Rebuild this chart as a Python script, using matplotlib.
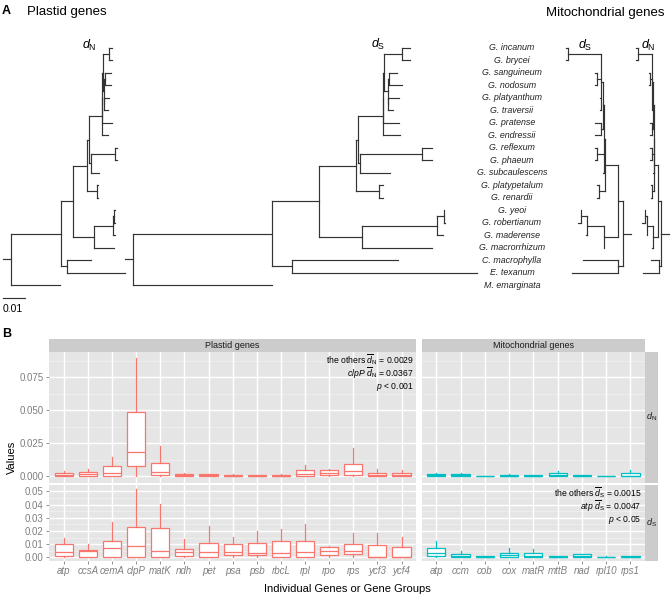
import matplotlib
matplotlib.use('Agg')
import matplotlib.pyplot as plt

plt.rcParams['font.family'] = ['Liberation Sans', 'DejaVu Sans']
plt.rcParams['mathtext.fontset'] = 'custom'
plt.rcParams['mathtext.rm'] = 'Liberation Sans'
plt.rcParams['mathtext.it'] = 'Liberation Sans:italic'
plt.rcParams['mathtext.bf'] = 'Liberation Sans:bold'

# ---------------------------------------------------------------- DATA (A)
taxa = ['G. incanum', 'G. brycei', 'G. sanguineum', 'G. nodosum', 'G. platyanthum',
        'G. traversii', 'G. pratense', 'G. endressii', 'G. reflexum', 'G. phaeum',
        'G. subcaulescens', 'G. platypetalum', 'G. renardii', 'G. yeoi',
        'G. robertianum', 'G. maderense', 'G. macrorrhizum', 'C. macrophylla',
        'E. texanum', 'M. emarginata']
tip_keys = ['inc', 'bry', 'san', 'nod', 'pla', 'tra', 'pra', 'end', 'ref', 'pha',
            'sub', 'plp', 'ren', 'yeo', 'rob', 'mad', 'mac', 'Cma', 'Ete', 'Mem']

# branch lengths in 10^-3 substitutions / site
plastid_dN_tree = (
    "((((((("
    "((inc:1.1,bry:1.1):3.0,((san:2.9,nod:2.9):0.5,(pla:2.2,tra:1.6):0.2):0.5)"
    ":0.2,pra:4.3)"
    ":0.2,end:2.7)"
    ":5.8,((ref:0.9,pha:0.9):11.0,sub:3.9):0.8)"
    ":0.8,(plp:0.7,ren:0.7):4.2)"
    ":6.6,(((yeo:0.2,rob:0.5):0.5,mad:0.7):8.6,mac:9.1):9.8)"
    ":5.5,(Cma:10.9,Ete:26.5):2.7)"
    ":22.7,Mem:22.4);")

plastid_dS_tree = (
    "((((((("
    "((inc:3.5,bry:3.5):8.2,((san:3.6,nod:5.9):0.5,(pla:5.0,tra:2.3):0.2):1.8)"
    ":0.2,pra:6.9)"
    ":0.2,end:7.9)"
    ":11.4,((ref:4.5,pha:4.5):28.0,sub:13.6):1.0)"
    ":0.8,(plp:1.8,ren:1.8):10.6)"
    ":16.7,(((yeo:0.2,rob:0.7):3.0,mad:2.7):34.4,mac:31.8):19.2)"
    ":21.4,(Cma:48.5,Ete:84.1):8.8)"
    ":63.3,Mem:63.3);")

mito_dS_tree = (
    "((((("
    "((inc:0.9,bry:0.9):14.7,(san:0.9,nod:0.9):1.8,pla:0.1,tra:0.1)"
    ":0.9,(pra:2.7,end:2.7):0.9)"
    ":0.8,(ref:0.9,pha:0.9):3.4,sub:0.5)"
    ":0.1,(plp:0.9,ren:0.9):2.7)"
    ":6.2,(((yeo:0.2,rob:1.5):2.5,mad:0.1):8.0,mac:0.2):6.4)"
    ":2.3,(Cma:15.9,Ete:21.2):2.3)"
    ":10.6,Mem:10.1);")

mito_dN_tree = (
    "((((("
    "((inc:0.9,bry:0.9):6.5,(san:0.5,nod:0.5):0.7,pla:0.1,tra:0.1)"
    ":0.5,(pra:0.7,end:0.7):0.5)"
    ":0.3,(ref:0.7,pha:0.7):0.9,sub:0.2)"
    ":0.3,(plp:0.7,ren:0.7):0.9)"
    ":1.5,(((yeo:0.2,rob:1.2):0.9,mad:0.1):2.9,mac:0.6):2.0)"
    ":1.5,(Cma:3.8,Ete:7.6):0.8)"
    ":4.2,Mem:4.2);")

scale_bar_value = 10.0   # = 0.01 substitutions/site
scale_bar_label = '0.01'

# ---------------------------------------------------------------- DATA (B)
plastid_genes = ['atp', 'ccsA', 'cemA', 'clpP', 'matK', 'ndh', 'pet', 'psa', 'psb',
                 'rbcL', 'rpl', 'rpo', 'rps', 'ycf3', 'ycf4']
mito_genes = ['atp', 'ccm', 'cob', 'cox', 'matR', 'mttB', 'nad', 'rpl10', 'rps1']

# boxplot stats: [lower whisker, Q1, median, Q3, upper whisker]
plastid_dN = [
    [0, 0.0003, 0.0013, 0.0025, 0.0039],
    [0, 0.0002, 0.0015, 0.0032, 0.0053],
    [0, 0.0003, 0.0023, 0.0080, 0.0146],
    [0, 0.0080, 0.0184, 0.0487, 0.0894],
    [0, 0.0008, 0.0033, 0.0098, 0.0230],
    [0, 0.0005, 0.0013, 0.0020, 0.0030],
    [0, 0.0002, 0.0008, 0.0015, 0.0020],
    [0, 0.0001, 0.0005, 0.0012, 0.0015],
    [0, 0.0000, 0.0004, 0.0010, 0.0012],
    [0, 0.0000, 0.0005, 0.0013, 0.0018],
    [0, 0.0005, 0.0018, 0.0046, 0.0089],
    [0, 0.0008, 0.0025, 0.0046, 0.0060],
    [0, 0.0013, 0.0038, 0.0094, 0.0213],
    [0, 0.0000, 0.0008, 0.0028, 0.0053],
    [0, 0.0002, 0.0013, 0.0028, 0.0048]]
plastid_dS = [
    [0, 0.0013, 0.0041, 0.0099, 0.0145],
    [0, 0.0002, 0.0045, 0.0053, 0.0099],
    [0, 0.0005, 0.0069, 0.0124, 0.0269],
    [0, 0.0003, 0.0086, 0.0231, 0.0518],
    [0, 0.0005, 0.0051, 0.0221, 0.0404],
    [0, 0.0010, 0.0038, 0.0066, 0.0140],
    [0, 0.0003, 0.0038, 0.0112, 0.0234],
    [0, 0.0020, 0.0043, 0.0099, 0.0157],
    [0, 0.0018, 0.0036, 0.0107, 0.0200],
    [0, 0.0005, 0.0036, 0.0124, 0.0213],
    [0, 0.0003, 0.0043, 0.0124, 0.0254],
    [0, 0.0015, 0.0048, 0.0076, 0.0086],
    [0, 0.0023, 0.0048, 0.0099, 0.0183],
    [0, 0.0000, 0.0003, 0.0094, 0.0188],
    [0, 0.0000, 0.0003, 0.0081, 0.0157]]
mito_dN = [
    [0, 0.0002, 0.0008, 0.0018, 0.0030],
    [0, 0.0002, 0.0008, 0.0015, 0.0023],
    [0, 0.0000, 0.0002, 0.0005, 0.0006],
    [0, 0.0002, 0.0007, 0.0013, 0.0018],
    [0, 0.0000, 0.0005, 0.0010, 0.0013],
    [0, 0.0000, 0.0008, 0.0023, 0.0038],
    [0, 0.0001, 0.0004, 0.0008, 0.0010],
    [0, 0.0000, 0.0002, 0.0005, 0.0006],
    [0, 0.0000, 0.0005, 0.0023, 0.0046]]
mito_dS = [
    [0, 0.0010, 0.0036, 0.0069, 0.0127],
    [0, 0.0000, 0.0010, 0.0025, 0.0046],
    [0, 0.0000, 0.0005, 0.0010, 0.0012],
    [0, 0.0003, 0.0020, 0.0033, 0.0071],
    [0, 0.0000, 0.0013, 0.0030, 0.0061],
    [0, 0.0000, 0.0003, 0.0008, 0.0010],
    [0, 0.0003, 0.0013, 0.0023, 0.0028],
    [0, 0.0000, 0.0002, 0.0005, 0.0008],
    [0, 0.0000, 0.0003, 0.0006, 0.0008]]

dN_ticks = [0.0, 0.025, 0.05, 0.075]
dN_ticklabels = ['0.000', '0.025', '0.050', '0.075']
dS_ticks = [0.0, 0.01, 0.02, 0.03, 0.04, 0.05]
dS_ticklabels = ['0.00', '0.01', '0.02', '0.03', '0.04', '0.05']

# ---------------------------------------------------------------- FIGURE
W, H = 671, 596
fig = plt.figure(figsize=(W / 100, H / 100), dpi=100)

axA = fig.add_axes([0, 0, 1, 1])
axA.set_xlim(0, W)
axA.set_ylim(H, 0)
axA.axis('off')

TREE_KW = dict(color='#333333', lw=0.85, solid_capstyle='projecting')
PX_PER_UNIT = 2.2


def parse_newick(s):
    s = s.replace(' ', '').rstrip(';')
    pos = 0

    def node():
        nonlocal pos
        children = []
        if s[pos] == '(':
            pos += 1
            while True:
                children.append(node())
                if s[pos] == ',':
                    pos += 1
                else:
                    pos += 1
                    break
        start = pos
        while pos < len(s) and s[pos] not in ':,)':
            pos += 1
        name = s[start:pos]
        length = 0.0
        if pos < len(s) and s[pos] == ':':
            pos += 1
            start = pos
            while pos < len(s) and s[pos] not in ',)':
                pos += 1
            length = float(s[start:pos])
        return {'name': name, 'len': length, 'children': children}
    return node()


tip_y = {k: 47.7 + i * 12.49 for i, k in enumerate(tip_keys)}


def draw_tree(ax, newick, root_x, direction, stub=8.0):
    tree = parse_newick(newick)

    def rec(n, x):
        if not n['children']:
            return tip_y[n['name']]
        ys = []
        for c in n['children']:
            cx = x + direction * c['len'] * PX_PER_UNIT
            cy = rec(c, cx)
            ax.plot([x, cx], [cy, cy], **TREE_KW)
            ys.append(cy)
        ax.plot([x, x], [min(ys), max(ys)], **TREE_KW)
        return (ys[0] + ys[-1]) / 2.0

    ry = rec(tree, root_x)
    ax.plot([root_x - direction * stub, root_x], [ry, ry], **TREE_KW)


draw_tree(axA, plastid_dN_tree, 10.7, +1)
draw_tree(axA, plastid_dS_tree, 133.0, +1)
draw_tree(axA, mito_dS_tree, 623.3, -1)
draw_tree(axA, mito_dN_tree, 661.0, -1)

for name, key in zip(taxa, tip_keys):
    axA.text(512, tip_y[key], name, ha='center', va='center', fontsize=6.4,
             style='italic', color='#222222')

axA.text(2, 11, 'A', fontsize=9, weight='bold', va='center', ha='left')
axA.text(27, 12.5, 'Plastid genes', fontsize=9.5, va='center', ha='left')
axA.text(664, 13, 'Mitochondrial genes', fontsize=9.5, va='center', ha='right')
axA.text(89, 45, r'$d_\mathrm{N}$', fontsize=9, ha='center', va='center')
axA.text(378, 44, r'$d_\mathrm{S}$', fontsize=9, ha='center', va='center')
axA.text(585, 45, r'$d_\mathrm{S}$', fontsize=9, ha='center', va='center')
axA.text(648, 45, r'$d_\mathrm{N}$', fontsize=9, ha='center', va='center')

axA.plot([3, 3 + scale_bar_value * PX_PER_UNIT], [298, 298], **TREE_KW)
axA.text(3, 309, scale_bar_label, fontsize=7.5, ha='left', va='center')
axA.text(2, 334, 'B', fontsize=9, weight='bold', va='center', ha='left')


# ---------------------------------------------------------------- PANEL B
def frac(x0, y0, x1, y1):
    return [x0 / W, 1 - y1 / H, (x1 - x0) / W, (y1 - y0) / H]


XL0, XL1 = 49.3, 416.0
XR0, XR1 = 421.7, 645.0
YT0, YT1 = 351.7, 482.7
YB0, YB1 = 485.3, 560.7

GREY_TXT = '#7F7F7F'
PL_COL = '#F8766D'
MT_COL = '#00BFC4'


def panel(rect, stats, color, ylim, ticks, minor):
    ax = fig.add_axes(rect)
    ax.set_facecolor('#E5E5E5')
    n = len(stats)
    ax.set_xlim(-0.6, n - 0.4)
    ax.set_ylim(*ylim)
    for v in minor:
        ax.axhline(v, color='#F2F2F2', lw=0.5, zorder=0.3)
    for v in ticks:
        ax.axhline(v, color='white', lw=1.0, zorder=0.5)
    for i in range(n):
        ax.axvline(i, color='white', lw=1.0, zorder=0.5)
    bstats = [dict(whislo=s[0], q1=s[1], med=s[2], q3=s[3], whishi=s[4], fliers=[])
              for s in stats]
    ax.bxp(bstats, positions=list(range(n)), widths=0.75, patch_artist=True,
           showcaps=False, showfliers=False, manage_ticks=False,
           boxprops=dict(facecolor='white', edgecolor=color, lw=0.9),
           medianprops=dict(color=color, lw=0.9),
           whiskerprops=dict(color=color, lw=0.9), zorder=2)
    for s in ax.spines.values():
        s.set_visible(False)
    ax.tick_params(length=2.5, color=GREY_TXT, labelcolor=GREY_TXT, labelsize=7,
                   width=0.6, pad=1.5)
    ax.set_xticks([])
    ax.set_yticks([])
    return ax


dN_lim = (-0.0047, 0.0942)
dS_lim = (-0.0026, 0.0547)
dN_minor = [0.0125, 0.0375, 0.0625, 0.0875]
dS_minor = [0.005, 0.015, 0.025, 0.035, 0.045]

ax_tl = panel(frac(XL0, YT0, XL1, YT1), plastid_dN, PL_COL, dN_lim, dN_ticks, dN_minor)
ax_bl = panel(frac(XL0, YB0, XL1, YB1), plastid_dS, PL_COL, dS_lim, dS_ticks, dS_minor)
ax_tr = panel(frac(XR0, YT0, XR1, YT1), mito_dN, MT_COL, dN_lim, dN_ticks, dN_minor)
ax_br = panel(frac(XR0, YB0, XR1, YB1), mito_dS, MT_COL, dS_lim, dS_ticks, dS_minor)

ax_tl.set_yticks(dN_ticks)
ax_tl.set_yticklabels(dN_ticklabels)
ax_bl.set_yticks(dS_ticks)
ax_bl.set_yticklabels(dS_ticklabels)
ax_bl.set_xticks(range(len(plastid_genes)))
ax_bl.set_xticklabels(plastid_genes, style='italic')
ax_br.set_xticks(range(len(mito_genes)))
ax_br.set_xticklabels(mito_genes, style='italic')

ANN = dict(ha='right', va='center', fontsize=6.2, zorder=5)
ax_tl.text(14.5, 0.0884, r'the others $\overline{d}_\mathrm{N}$ = 0.0029', **ANN)
ax_tl.text(14.5, 0.0780, r'$\mathit{clpP}$ $\overline{d}_\mathrm{N}$ = 0.0367', **ANN)
ax_tl.text(14.5, 0.0676, r'$p$ < 0.001', **ANN)
ax_br.text(8.46, 0.0492, r'the others $\overline{d}_\mathrm{S}$ = 0.0015', **ANN)
ax_br.text(8.46, 0.0388, r'$\mathit{atp}$ $\overline{d}_\mathrm{S}$ = 0.0047', **ANN)
ax_br.text(8.46, 0.0284, r'$p$ < 0.05', **ANN)


def strip(rect, label, rotation=0):
    ax = fig.add_axes(rect)
    ax.set_facecolor('#CCCCCC')
    ax.set_xticks([])
    ax.set_yticks([])
    for s in ax.spines.values():
        s.set_visible(False)
    ax.text(0.5, 0.5, label, transform=ax.transAxes, ha='center', va='center',
            fontsize=6.5, color='#1A1A1A', rotation=rotation)
    return ax


strip(frac(XL0, 339.3, XL1, YT0), 'Plastid genes')
strip(frac(XR0, 339.3, XR1, YT0), 'Mitochondrial genes')
strip(frac(XR1, YT0, 658.3, YT1), r'$d_\mathrm{N}$')
strip(frac(XR1, YB0, 658.3, YB1), r'$d_\mathrm{S}$')

fig.text(12.3 / W, 1 - 457 / H, 'Values', rotation=90, ha='center', va='center',
         fontsize=8)
fig.text(347 / W, 1 - 589 / H, 'Individual Genes or Gene Groups', ha='center',
         va='center', fontsize=8)

fig.savefig('out.png', dpi=100)
